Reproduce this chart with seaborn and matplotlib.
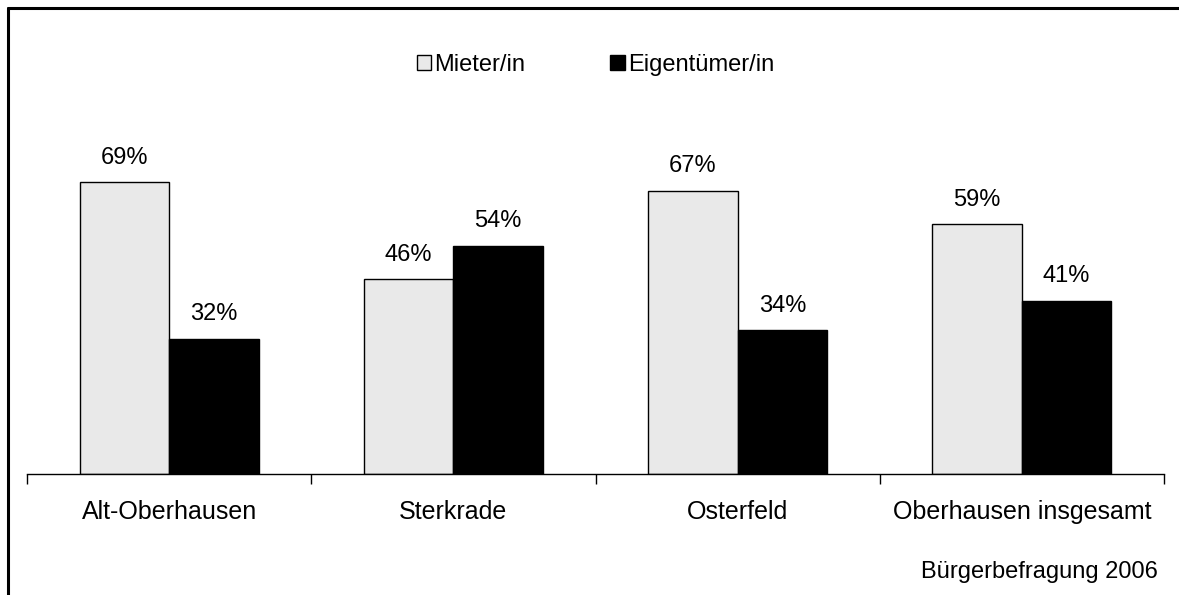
import pandas as pd
import matplotlib
matplotlib.use("Agg")
import matplotlib.pyplot as plt
import seaborn as sns
from matplotlib.lines import Line2D

# Werte aus der Grafik
bezirke = ["Alt-Oberhausen", "Sterkrade", "Osterfeld", "Oberhausen insgesamt"]
mieter = [69, 46, 67, 59]
eigentuemer = [32, 54, 34, 41]
gruppen = ["Mieter/in", "Eigentümer/in"]

df = pd.DataFrame({
    "Bezirk": bezirke * 2,
    "Gruppe": [gruppen[0]] * 4 + [gruppen[1]] * 4,
    "Anteil": mieter + eigentuemer,
})

sns.set_style("white")
plt.rcParams["font.family"] = ["Liberation Sans", "DejaVu Sans"]
plt.rcParams["text.color"] = "black"
plt.rcParams["xtick.color"] = "black"

fig = plt.figure(figsize=(11.79, 5.95), dpi=100)
ax = fig.add_axes([0.0229, 0.2034, 0.9644, 0.711])

sns.barplot(data=df, x="Bezirk", y="Anteil", hue="Gruppe",
            palette=["#e9e9e9", "black"], width=0.63,
            edgecolor="black", linewidth=1, ax=ax)

for cont in ax.containers:
    ax.bar_label(cont, labels=[f"{v:.0f}%" for v in cont.datavalues],
                 padding=9.5, fontsize=17, color="black")

ax.set_ylim(0, 100)
ax.set_xlim(-0.5, 3.5)
ax.set_xlabel("")
ax.set_ylabel("")
ax.set_yticks([])
for s in ["top", "right", "left"]:
    ax.spines[s].set_visible(False)
ax.spines["bottom"].set_color("black")
ax.spines["bottom"].set_linewidth(1)
ax.tick_params(axis="x", which="major", length=0, labelsize=18, pad=19,
               labelcolor="black")
ax.set_xticks([-0.5, 0.5, 1.5, 2.5, 3.5], minor=True)
ax.tick_params(axis="x", which="minor", length=7, width=1, color="black",
               direction="out", bottom=True)

leg = ax.legend(loc="center", bbox_to_anchor=(0.5, 0.966), ncol=2,
                frameon=False, fontsize=17, handlelength=0.6,
                handleheight=0.6, handletextpad=0.15, columnspacing=3.6)

fig.text(0.982, 0.038, "Bürgerbefragung 2006", ha="right", va="center",
         fontsize=17)

# Rahmen oben und links
fig.add_artist(Line2D([0.0064, 0.0064], [0, 0.9866], color="black",
                      lw=2.2, transform=fig.transFigure))
fig.add_artist(Line2D([0.0064, 1.0], [0.9866, 0.9866], color="black",
                      lw=2.2, transform=fig.transFigure))

fig.savefig("out.png", dpi=100)
